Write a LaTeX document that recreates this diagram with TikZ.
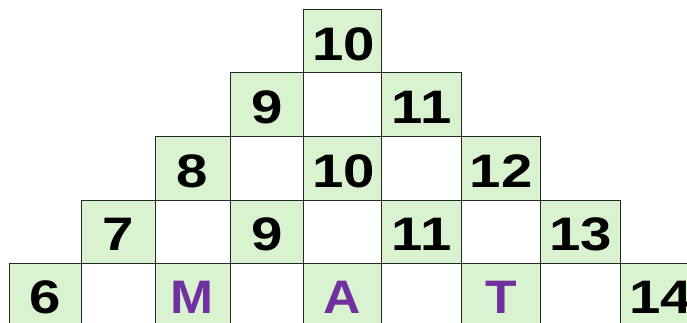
\documentclass[tikz,border=0pt]{standalone}
\usepackage{fontspec}
\setmainfont{Liberation Sans}
\definecolor{cellgreen}{HTML}{D9F2D0}
\definecolor{letterpurple}{HTML}{7030A0}
% column and row edges of the staircase grid
\def\colx{{9.3,81.5,155,230,303.3,381.7,461.7,540.7,620.7,700.7}}
\def\rowy{{9.3,72.7,136,200,263.3,326.7}}

\begin{document}
\begin{tikzpicture}[x=1pt,y=-1pt,
    greencell/.style={fill=cellgreen,draw=black!85,line width=0.9pt},
    whitecell/.style={fill=white,draw=black!85,line width=0.9pt},
    entry/.style={font=\fontsize{47}{47}\selectfont\bfseries,text=black,inner sep=0pt},
    letter/.style={entry,text=letterpurple}]
    \useasboundingbox (0,0) rectangle (687,322);
    \clip (0,0) rectangle (687,322);

    % Cells: row r holds columns 4-r ... 4+r, green on every other one
    \foreach \r in {0,...,4} {
        \pgfmathtruncatemacro\first{4-\r}
        \pgfmathtruncatemacro\last{4+\r}
        \foreach \c in {\first,...,\last} {
            \pgfmathsetmacro\xa{\colx[\c]}
            \pgfmathsetmacro\xb{\colx[\c+1]}
            \pgfmathsetmacro\ya{\rowy[\r]}
            \pgfmathsetmacro\yb{\rowy[\r+1]}
            \pgfmathtruncatemacro\odd{mod(\c-\first,2)}
            \ifnum\odd=0
                \path[greencell] (\xa,\ya) rectangle (\xb,\yb);
            \else
                \path[whitecell] (\xa,\ya) rectangle (\xb,\yb);
            \fi
        }
    }

    % Numbers
    \node[entry] (top) at (343.5,44) {\scalebox{1.2}[1]{10}};
    \node[entry] (nine) at (266.7,107.4) {\scalebox{1.2}[1]{9}};
    \node[entry] (eleven) at (421.7,107.4) {\scalebox{1.2}[1]{11}};
    \node[entry] (eight) at (192.5,171) {\scalebox{1.2}[1]{8}};
    \node[entry] (ten) at (343.5,171) {\scalebox{1.2}[1]{10}};
    \node[entry] (twelve) at (501.2,171) {\scalebox{1.2}[1]{12}};
    \node[entry] (seven) at (118.3,234.7) {\scalebox{1.2}[1]{7}};
    \node[entry] (ninelow) at (266.7,234.7) {\scalebox{1.2}[1]{9}};
    \node[entry] (elevenlow) at (421.7,234.7) {\scalebox{1.2}[1]{11}};
    \node[entry] (thirteen) at (580.7,234.7) {\scalebox{1.2}[1]{13}};
    \node[entry] (six) at (45.4,297) {\scalebox{1.2}[1]{6}};
    \node[entry] (fourteen) at (660.7,297) {\scalebox{1.2}[1]{14}};

    % Letters
    \node[letter] (m) at (192.5,297) {\scalebox{1.1}[1]{M}};
    \node[letter] (a) at (342.5,297) {\scalebox{1.1}[1]{A}};
    \node[letter] (t) at (501.2,297) {\scalebox{1.1}[1]{T}};
\end{tikzpicture}
\end{document}
